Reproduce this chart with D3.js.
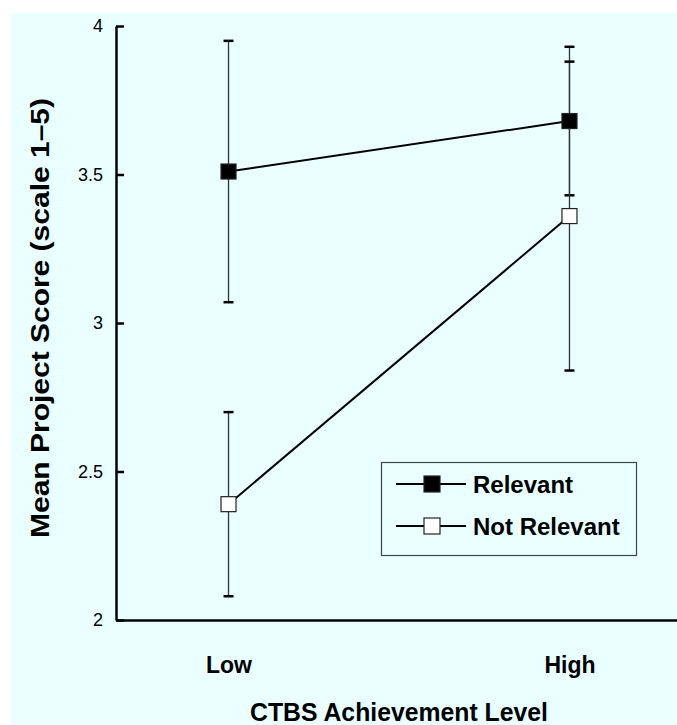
<!DOCTYPE html>
<html>
<head>
<meta charset="utf-8">
<script src="https://cdn.jsdelivr.net/npm/d3@7"></script>
<style>
  html, body { margin: 0; padding: 0; background: #fff; }
  svg { display: block; font-family: "Liberation Sans", Arial, sans-serif; }
</style>
</head>
<body>
<svg id="chart" width="677" height="725"></svg>
<script>
// data
const categories = ['Low', 'High'];
const yTicks = [2, 2.5, 3, 3.5, 4];
const relevantMean = [3.51, 3.68];
const relevantErr = [0.44, 0.25];
const notRelevantMean = [2.39, 3.36];
const notRelevantErr = [0.31, 0.52];

const series = [
  { name: 'Relevant', mean: relevantMean, err: relevantErr, fill: '#000' },
  { name: 'Not Relevant', mean: notRelevantMean, err: notRelevantErr, fill: '#fff' }
];

const W = 677, H = 725;
const svg = d3.select('#chart');

// pale cyan panel
svg.append('rect')
  .attr('x', 11).attr('y', 13)
  .attr('width', W - 11).attr('height', H - 13)
  .attr('fill', '#eaffff');

const x = d3.scalePoint().domain(categories).range([116, 682]).padding(0.33);
const y = d3.scaleLinear().domain([2, 4]).range([620, 26]);

// y axis, ticks pointing inward
const yAxis = svg.append('g')
  .attr('transform', 'translate(116,0)')
  .call(d3.axisLeft(y).tickValues(yTicks).tickSizeInner(-8).tickSizeOuter(0)
    .tickPadding(13).tickFormat(d3.format('')));
yAxis.select('.domain').attr('stroke-width', 2.5);
yAxis.selectAll('.tick line').attr('stroke-width', 2.5);
yAxis.selectAll('.tick text')
  .attr('font-size', 18).attr('font-family', '"Liberation Sans", Arial, sans-serif')
  .attr('fill', '#000');

// x axis line and category labels
const xAxis = svg.append('g')
  .attr('transform', 'translate(0,620)')
  .call(d3.axisBottom(x).tickSize(0).tickPadding(37));
xAxis.select('.domain').attr('stroke-width', 2.5);
xAxis.selectAll('.tick text')
  .attr('font-size', 23).attr('font-weight', 'bold')
  .attr('font-family', '"Liberation Sans", Arial, sans-serif')
  .attr('fill', '#000');

// axis titles
svg.append('text')
  .attr('x', 399).attr('y', 721)
  .attr('text-anchor', 'middle')
  .attr('font-size', 25).attr('font-weight', 'bold')
  .attr('textLength', 298).attr('lengthAdjust', 'spacingAndGlyphs')
  .text('CTBS Achievement Level');

svg.append('text')
  .attr('transform', 'translate(49,318) rotate(-90)')
  .attr('text-anchor', 'middle')
  .attr('font-size', 25).attr('font-weight', 'bold')
  .attr('textLength', 440).attr('lengthAdjust', 'spacingAndGlyphs')
  .text('Mean Project Score (scale 1–5)');

// error bars
const bars = svg.append('g');
series.forEach(s => {
  categories.forEach((c, i) => {
    const lo = y(s.mean[i] - s.err[i]), hi = y(s.mean[i] + s.err[i]);
    bars.append('line')
      .attr('x1', x(c)).attr('x2', x(c)).attr('y1', lo).attr('y2', hi)
      .attr('stroke', '#333').attr('stroke-width', 1.3);
    [lo, hi].forEach(v => {
      bars.append('line')
        .attr('x1', x(c) - 5).attr('x2', x(c) + 5).attr('y1', v).attr('y2', v)
        .attr('stroke', '#000').attr('stroke-width', 2.5);
    });
  });
});

// series lines and markers
const line = d3.line().x((d, i) => x(categories[i])).y(d => y(d));
const MS = 15;
series.forEach(s => {
  svg.append('path')
    .attr('d', line(s.mean))
    .attr('fill', 'none').attr('stroke', '#000').attr('stroke-width', 2);
});
series.forEach(s => {
  svg.append('g').selectAll('rect')
    .data(s.mean)
    .join('rect')
    .attr('x', (d, i) => x(categories[i]) - MS / 2)
    .attr('y', d => y(d) - MS / 2)
    .attr('width', MS).attr('height', MS)
    .attr('fill', s.fill).attr('stroke', '#222').attr('stroke-width', 1.2);
});

// legend
const legend = svg.append('g');
legend.append('rect')
  .attr('x', 381.5).attr('y', 462.5).attr('width', 255).attr('height', 93)
  .attr('fill', 'none').attr('stroke', '#444').attr('stroke-width', 1.2);
series.forEach((s, i) => {
  const ly = 484 + i * 42;
  legend.append('line')
    .attr('x1', 396).attr('x2', 466).attr('y1', ly).attr('y2', ly)
    .attr('stroke', '#000').attr('stroke-width', 2);
  legend.append('rect')
    .attr('x', 432 - 8).attr('y', ly - 8).attr('width', 16).attr('height', 16)
    .attr('fill', s.fill).attr('stroke', '#222').attr('stroke-width', 1.2);
  legend.append('text')
    .attr('x', 473).attr('y', ly + 9)
    .attr('font-size', 24).attr('font-weight', 'bold')
    .text(s.name);
});
</script>
</body>
</html>
